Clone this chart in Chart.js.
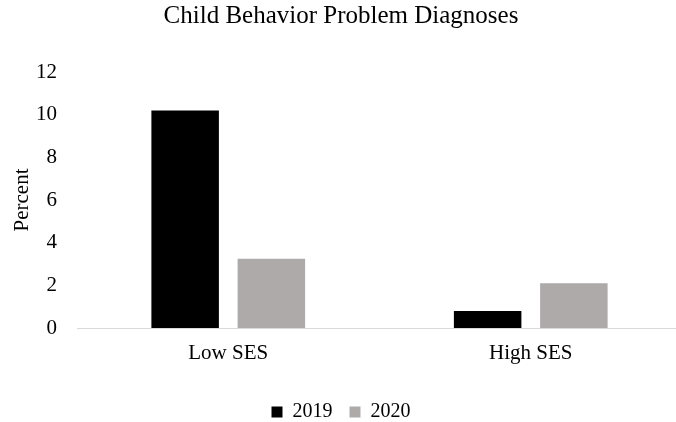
<!DOCTYPE html>
<html>
<head>
<meta charset="utf-8">
<script src="https://cdn.jsdelivr.net/npm/chart.js@4"></script>
<style>
  html, body { margin: 0; padding: 0; background: #fff; overflow: hidden; }
  #wrap { width: 682px; height: 432px; }
</style>
</head>
<body>
<div id="wrap"><canvas id="chart"></canvas></div>
<script>
// Chart data
const categories = ['Low SES', 'High SES'];
const values2019 = [10.2, 0.8];
const values2020 = [3.25, 2.1];
const seriesLabels = ['2019', '2020'];
const yTicks = [0, 2, 4, 6, 8, 10, 12];

const serif = 'Liberation Serif, Times New Roman, serif';

const ctx = document.getElementById('chart').getContext('2d');

new Chart(ctx, {
    type: 'bar',
    data: {
        labels: categories,
        datasets: [
            {
                label: seriesLabels[0],
                data: values2019,
                backgroundColor: '#000000',
                borderWidth: 0,
                categoryPercentage: 0.57,
                barPercentage: 0.783,
            },
            {
                label: seriesLabels[1],
                data: values2020,
                backgroundColor: '#aeaaaa',
                borderWidth: 0,
                categoryPercentage: 0.57,
                barPercentage: 0.783,
            }
        ]
    },
    options: {
        responsive: true,
        maintainAspectRatio: false,
        animation: false,
        layout: { padding: 0 },
        plugins: {
            title: {
                display: true,
                text: 'Child Behavior Problem Diagnoses',
                color: '#000',
                font: { family: serif, size: 25, weight: 'normal' },
                padding: { top: 1, bottom: 41 }
            },
            legend: {
                position: 'bottom',
                labels: {
                    color: '#000',
                    font: { family: serif, size: 20 },
                    boxWidth: 11,
                    boxHeight: 11,
                    padding: 17
                }
            },
            tooltip: { enabled: false }
        },
        scales: {
            x: {
                grid: { display: false, drawTicks: false },
                border: { display: true, color: '#d9d9d9', width: 1 },
                ticks: {
                    color: '#000',
                    font: { family: serif, size: 21 },
                    padding: 13
                },
                afterFit: (scale) => { scale.height = 57; }
            },
            y: {
                min: 0,
                max: 12,
                grid: { display: false, drawTicks: false },
                border: { display: false },
                afterBuildTicks: (scale) => {
                    scale.ticks = yTicks.map(v => ({ value: v }));
                },
                ticks: {
                    color: '#000',
                    font: { family: serif, size: 21 },
                    padding: 20
                },
                title: {
                    display: true,
                    text: 'Percent',
                    color: '#000',
                    font: { family: serif, size: 21 },
                    padding: { top: 10, bottom: 0 }
                },
                afterFit: (scale) => { scale.width = 77; }
            }
        }
    }
});
</script>
</body>
</html>
